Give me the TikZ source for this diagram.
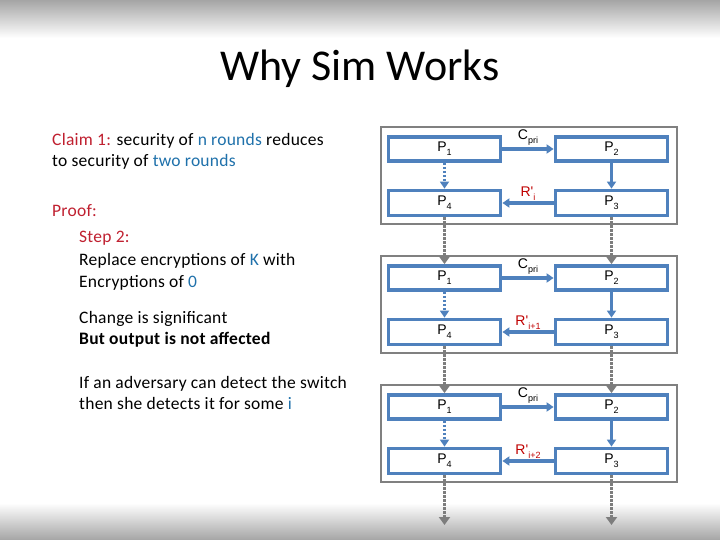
\documentclass[tikz,border=0pt]{standalone}
\usepackage{fontspec}
\setmainfont{Carlito}
\newfontfamily\arialf{Liberation Sans}
\usetikzlibrary{arrows.meta}
\definecolor{boxblue}{RGB}{79,129,189}
\definecolor{framegray}{RGB}{128,128,128}
\definecolor{claimred}{RGB}{192,32,48}
\definecolor{hlblue}{RGB}{31,113,171}
\definecolor{labred}{RGB}{192,0,0}
\definecolor{dotgray}{RGB}{125,125,125}
\definecolor{shadegray}{RGB}{165,165,165}
\newcommand\lowsub[1]{\raisebox{-4pt}{\fontsize{9}{9}\selectfont #1}}
\tikzset{
  pbox/.style={draw=boxblue, line width=3.8pt, minimum width=112pt, minimum height=24pt, inner sep=0pt, font=\arialf\fontsize{14}{16}\selectfont},
  frame/.style={draw=framegray, line width=2.2pt},
  barrow/.style={draw=boxblue, line width=3.5pt, -{Triangle[length=7pt,width=9pt]}},
  bdot/.style={barrow, dash pattern=on 2.5pt off 1.5pt},
  garrow/.style={draw=dotgray, line width=3.5pt, dash pattern=on 2.5pt off 1.5pt, -{Triangle[length=8pt,width=11pt]}},
  lab/.style={font=\arialf\fontsize{14}{16}\selectfont, inner sep=1pt},
  txt/.style={anchor=base west, inner sep=0pt, font=\fontsize{17.5}{20}\selectfont\addfontfeatures{LetterSpace=1.5}},
}
\begin{document}
\begin{tikzpicture}[x=1pt,y=-1pt]
\useasboundingbox (0,0) rectangle (720,540);
\fill[white] (0,0) rectangle (720,540);
\shade[top color=shadegray, bottom color=white] (0,0) rectangle (720,38);
\shade[top color=white, bottom color=shadegray] (0,503) rectangle (720,540);
% title
\node[anchor=base, inner sep=0pt, font=\fontsize{44}{50}\selectfont] (title) at (360,81) {Why Sim Works};
% left text
\node[txt] (t1) at (52,146) {\textcolor{claimred}{Claim 1:} security of \textcolor{hlblue}{n rounds} reduces};
\node[txt] (t2) at (52,167) {to security of \textcolor{hlblue}{two rounds}};
\node[txt] (t3) at (52,216) {\textcolor{claimred}{Proof:}};
\node[txt] (t4) at (79,243) {\textcolor{claimred}{Step 2:}};
\node[txt] (t5) at (79,265) {Replace encryptions of \textcolor{hlblue}{K} with};
\node[txt] (t6) at (79,287) {Encryptions of \textcolor{hlblue}{0}};
\node[txt] (t7) at (79,323) {Change is significant};
\node[txt] (t8) at (79,344) {\textbf{But output is not affected}};
\node[txt] (t9) at (79,388) {If an adversary can detect the switch};
\node[txt] (t10) at (79,409) {then she detects it for some \textcolor{hlblue}{i}};
% blocks
\foreach \k/\t/\r in {0/127/i, 1/256/i+1, 2/385/i+2}{
  \draw[frame] (381,\t) rectangle (677,\t+97);
  \node[pbox] (p1\k) at (444.5,\t+22) {P\lowsub{1}};
  \node[pbox] (p2\k) at (611.5,\t+22) {P\lowsub{2}};
  \node[pbox, minimum height=25pt] (p4\k) at (444.5,\t+76) {P\lowsub{4}};
  \node[pbox, minimum height=25pt] (p3\k) at (611.5,\t+76) {P\lowsub{3}};
  \draw[barrow] (p1\k) -- node[lab, above=1pt] {C\lowsub{pri}} (p2\k);
  \draw[barrow] (p2\k) -- (p3\k);
  \draw[barrow] (p3\k) -- node[lab, above=0pt, text=labred] {R'\lowsub{\r}} (p4\k);
  \draw[bdot] (p1\k) -- (p4\k);
}
\draw[garrow] (p40.south) -- (p11.north);
\draw[garrow] (p30.south) -- (p21.north);
\draw[garrow] (p41.south) -- (p12.north);
\draw[garrow] (p31.south) -- (p22.north);
\coordinate (e1) at (444.5,525);
\coordinate (e2) at (611.5,525);
\draw[garrow] (p42.south) -- (e1);
\draw[garrow] (p32.south) -- (e2);
\end{tikzpicture}
\end{document}
